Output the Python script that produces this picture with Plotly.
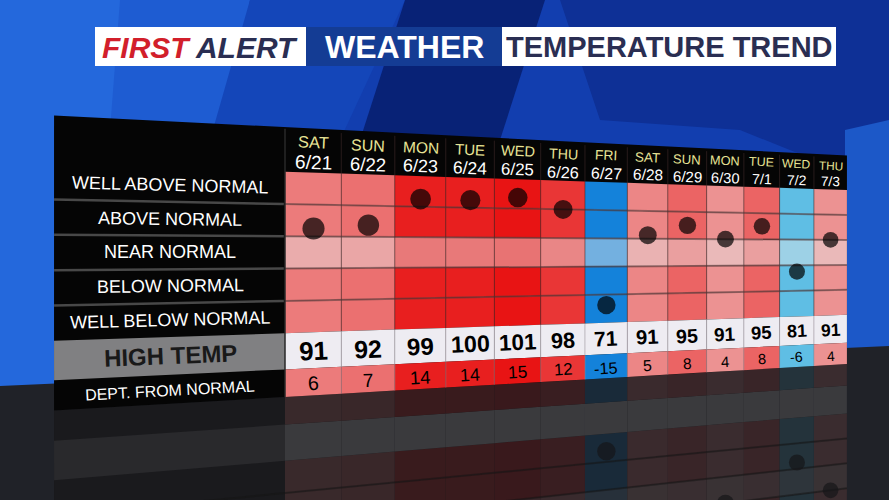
import math
import plotly.graph_objects as go

days = ['SAT', 'SUN', 'MON', 'TUE', 'WED', 'THU', 'FRI', 'SAT', 'SUN', 'MON', 'TUE', 'WED', 'THU']
dates = ['6/21', '6/22', '6/23', '6/24', '6/25', '6/26', '6/27', '6/28', '6/29', '6/30', '7/1', '7/2', '7/3']
high_temps = [91, 92, 99, 100, 101, 98, 71, 91, 95, 91, 95, 81, 91]
dept_normal = [6, 7, 14, 14, 15, 12, -15, 5, 8, 4, 8, -6, 4]
trend_rows = ['WELL ABOVE NORMAL', 'ABOVE NORMAL', 'NEAR NORMAL', 'BELOW NORMAL', 'WELL BELOW NORMAL']
DEG_PER_ROW = 8   # one trend row = 8 degrees, NEAR NORMAL centred on 0

FONT = 'Liberation Sans, Arial, sans-serif'

# ---- board geometry (column u, row v) seen in perspective ----
N = len(days)
PANEL_U = -3.625
HEAD_V = -1.38
GRID_V = len(trend_rows)
HIGH_V = 6.12
BOTTOM_V = 6.975


def proj(u, v):
    w = 1 + 0.02584 * u
    x = (65.11 * u + 285) / w
    y = (6.317 * u + 32.3 * (1 + 0.0025 * u) * v + 171.7) / w
    return x, y


def shrink(u, p=1.5):
    return 1 / (1 + 0.02584 * u) ** p


def tilt(v):
    x1, y1 = proj(0, v)
    x2, y2 = proj(1, v)
    return math.degrees(math.atan2(y2 - y1, x2 - x1))


def mix(c1, c2, t):
    return tuple(a + (b - a) * t for a, b in zip(c1, c2))


def css(c):
    return 'rgb({:.0f},{:.0f},{:.0f})'.format(*c)


def trend_rgb(dep):
    if dep >= 0:
        g = max(20, 192 - 11.5 * dep)
        return (238 - 0.4 * dep, g, g)
    k = dep + 6
    return (95 + 8.33 * k, 190 + 6.67 * k, 228 + 1.11 * k)


FLOOR_DARK = (26, 26, 29)
traces = []


def poly(u0, u1, v0, v1, color):
    pts = [proj(u0, v0), proj(u1, v0), proj(u1, v1), proj(u0, v1), proj(u0, v0)]
    traces.append(go.Scatter(x=[p[0] for p in pts], y=[p[1] for p in pts],
                             mode='lines', fill='toself', fillcolor=css(color),
                             line=dict(width=0), hoverinfo='skip', showlegend=False))


def seg(u0, v0, u1, v1, color, width):
    p0, p1 = proj(u0, v0), proj(u1, v1)
    traces.append(go.Scatter(x=[p0[0], p1[0]], y=[p0[1], p1[1]], mode='lines',
                             line=dict(color=color, width=width),
                             hoverinfo='skip', showlegend=False))


def mirror(v):
    return 2 * BOTTOM_V - v


# reflection on the floor
REFL = 0.15
poly(PANEL_U, N, BOTTOM_V, mirror(HEAD_V), FLOOR_DARK)
poly(PANEL_U, 0, mirror(HIGH_V), mirror(GRID_V), mix(FLOOR_DARK, (128, 128, 130), REFL))
for i, dep in enumerate(dept_normal):
    base = trend_rgb(dep)
    for r in range(GRID_V):
        c = mix(base, (232, 232, 232), 0.45) if r == 2 else base
        poly(i, i + 1, mirror(r + 1), mirror(r), mix(FLOOR_DARK, c, REFL))
    poly(i, i + 1, mirror(HIGH_V), mirror(GRID_V), mix(FLOOR_DARK, (238, 236, 242), REFL))
    poly(i, i + 1, BOTTOM_V, mirror(HIGH_V), mix(FLOOR_DARK, base, REFL))
for r in range(1, GRID_V):
    seg(PANEL_U, mirror(r), N, mirror(r), 'rgba(20,20,20,0.5)', 2)

# board
poly(PANEL_U, N, HEAD_V, BOTTOM_V, (5, 5, 5))
poly(PANEL_U, 0, GRID_V, HIGH_V, (128, 128, 130))
for i, dep in enumerate(dept_normal):
    base = trend_rgb(dep)
    for r in range(GRID_V):
        c = mix(base, (232, 232, 232), 0.45) if r == 2 else base
        poly(i, i + 1, r, r + 1, c)
    poly(i, i + 1, GRID_V, HIGH_V, (238, 236, 242))
    poly(i, i + 1, HIGH_V, BOTTOM_V, base)

# grid lines
for r in range(1, GRID_V):
    seg(PANEL_U, r, -0.02, r, 'rgb(72,72,72)', 2.5)
    seg(0, r, N, r, 'rgba(85,60,60,0.6)', 2)
for i in range(1, N):
    seg(i, HEAD_V + 0.1, i, GRID_V, 'rgba(70,45,45,0.55)', 1)
    seg(i, GRID_V, i, BOTTOM_V, 'rgba(150,140,150,0.5)', 1)
seg(0, HEAD_V + 0.05, 0, BOTTOM_V, 'rgb(40,40,40)', 1.5)

# trend dots (and their reflection)
dot_v = [GRID_V / 2 - d / DEG_PER_ROW for d in dept_normal]
dot_u = [i + 0.5 for i in range(N)]
dot_xy = [proj(u, v) for u, v in zip(dot_u, dot_v)]
ref_xy = [proj(u, mirror(v)) for u, v in zip(dot_u, dot_v)]
sizes = [22.5 * shrink(u, 1.3) for u in dot_u]
traces.append(go.Scatter(x=[p[0] for p in ref_xy], y=[p[1] for p in ref_xy], mode='markers',
                         marker=dict(color='rgb(22,22,24)', size=sizes, line=dict(width=0)),
                         hoverinfo='skip', showlegend=False))
traces.append(go.Scatter(x=[p[0] for p in dot_xy], y=[p[1] for p in dot_xy], mode='markers',
                         marker=dict(color='black', size=sizes, line=dict(width=0)),
                         hoverinfo='skip', showlegend=False))

fig = go.Figure(data=traces)

annotations = []


def label(u, v, text, size, color, bold=False):
    x, y = proj(u, v)
    if bold:
        text = '<b>' + text + '</b>'
    annotations.append(dict(x=x, y=y, xref='x', yref='y', text=text, showarrow=False,
                            xanchor='center', yanchor='middle', textangle=tilt(v),
                            font=dict(family=FONT, size=size, color=color)))


for i in range(N):
    u = i + 0.5
    label(u, -0.95, days[i], 16.8 * shrink(u, 1.25), 'rgb(232,228,150)')
    label(u, -0.32, dates[i], 19.5 * shrink(u, 1.3), 'white')
    label(u, 5.58, str(high_temps[i]), 26.5 * shrink(u), 'black', bold=True)
    label(u, 6.6, str(dept_normal[i]), 20 * shrink(u, 1.3), 'black')

for r, name in enumerate(trend_rows):
    label(-1.894, r + 0.5, name, 18, 'white')
label(-1.894, 5.56, 'HIGH TEMP', 24, 'rgb(25,25,25)', bold=True)
label(-1.894, 6.58, 'DEPT. FROM NORMAL', 16, 'white')

# title bar
annotations += [
    dict(x=200, y=47, xref='x', yref='y', showarrow=False,
         text='<b><i><span style="color:#d21f2b">FIRST</span> ALERT</i></b>',
         font=dict(family=FONT, size=30, color='rgb(42,46,82)')),
    dict(x=404, y=47, xref='x', yref='y', showarrow=False, text='<b>WEATHER</b>',
         font=dict(family=FONT, size=32, color='white')),
    dict(x=669, y=47, xref='x', yref='y', showarrow=False, text='<b>TEMPERATURE TREND</b>',
         font=dict(family=FONT, size=29, color='rgb(42,46,82)')),
]


def path(points):
    return 'M' + ' L'.join('{},{}'.format(x, y) for x, y in points) + ' Z'


shapes = [
    # backdrop
    dict(type='path', path=path([(0, 0), (250, 0), (175, 390), (0, 390)]),
         fillcolor='rgb(30,92,210)', line_width=0, layer='below'),
    dict(type='path', path=path([(0, 0), (120, 0), (90, 390), (0, 390)]),
         fillcolor='rgb(36,104,220)', line_width=0, layer='below'),
    dict(type='path', path=path([(250, 0), (405, 0), (340, 140), (210, 140)]),
         fillcolor='rgb(20,70,185)', line_width=0, layer='below'),
    dict(type='path', path=path([(405, 0), (545, 0), (500, 140), (360, 140)]),
         fillcolor='rgb(8,34,118)', line_width=0, layer='below'),
    dict(type='path', path=path([(560, 0), (889, 0), (889, 190), (740, 130), (600, 120)]),
         fillcolor='rgb(14,48,150)', line_width=0, layer='below'),
    dict(type='path', path=path([(845, 130), (889, 120), (889, 350), (845, 352)]),
         fillcolor='rgb(28,88,200)', line_width=0, layer='below'),
    # floor
    dict(type='path', path=path([(0, 386), (889, 346), (889, 500), (0, 500)]),
         fillcolor='rgb(32,34,40)', line_width=0, layer='below'),
    # title boxes
    dict(type='rect', x0=95, x1=306, y0=27, y1=66, fillcolor='white', line_width=0),
    dict(type='rect', x0=306, x1=502, y0=27, y1=66, fillcolor='rgb(20,60,148)', line_width=0),
    dict(type='rect', x0=502, x1=836, y0=27, y1=66, fillcolor='white', line_width=0),
]

fig.update_layout(
    width=889, height=500,
    margin=dict(l=0, r=0, t=0, b=0),
    paper_bgcolor='rgb(18,62,175)',
    plot_bgcolor='rgb(18,62,175)',
    xaxis=dict(range=[0, 889], visible=False, fixedrange=True),
    yaxis=dict(range=[500, 0], visible=False, fixedrange=True),
    shapes=shapes,
    annotations=annotations,
    showlegend=False,
)

fig.write_html("out.html", config={'displayModeBar': False},
               post_script="document.body.style.margin='0';document.body.style.overflow='hidden';")
